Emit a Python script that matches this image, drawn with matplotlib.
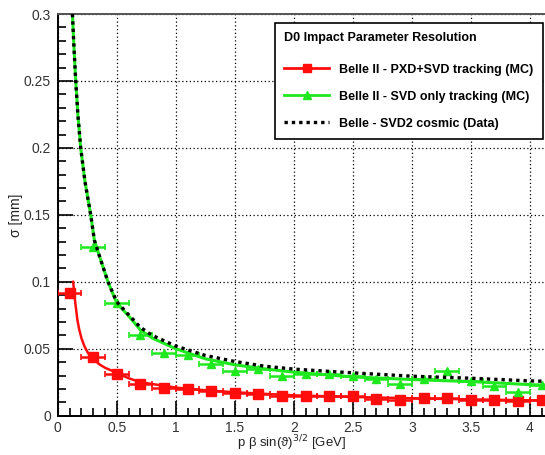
import matplotlib
matplotlib.use("Agg")
import matplotlib.pyplot as plt
from matplotlib.lines import Line2D
from matplotlib.ticker import MultipleLocator, FixedLocator

plt.rcParams['font.family'] = ['Liberation Sans', 'DejaVu Sans']

# ---- data ----
bin_x = [0.1, 0.3, 0.5, 0.7, 0.9, 1.1, 1.3, 1.5, 1.7, 1.9, 2.1, 2.3, 2.5, 2.7,
         2.9, 3.1, 3.3, 3.5, 3.7, 3.9, 4.1]
pxd_svd = [0.092, 0.0435, 0.031, 0.024, 0.0205, 0.0197, 0.0185, 0.0172, 0.0163,
           0.0148, 0.0144, 0.0144, 0.0144, 0.0128, 0.0118, 0.0135, 0.0132, 0.0120,
           0.0120, 0.0112, 0.0117]
svd_x = [0.3, 0.5, 0.7, 0.9, 1.1, 1.3, 1.5, 1.7, 1.9, 2.1, 2.3, 2.5, 2.7, 2.9,
         3.1, 3.3, 3.5, 3.7, 3.9, 4.1]
svd_only = [0.126, 0.084, 0.0604, 0.0468, 0.0455, 0.0388, 0.0336, 0.035, 0.0295,
            0.031, 0.031, 0.0293, 0.0274, 0.0235, 0.0272, 0.0335, 0.0256, 0.0222,
            0.0178, 0.023]
bin_halfwidth = 0.1

red_fit_x = [0.13, 0.14, 0.15, 0.166, 0.18, 0.2, 0.225, 0.256, 0.3, 0.35, 0.4, 0.5,
             0.6, 0.7, 0.85, 1.0, 1.25, 1.5, 2.0, 2.5, 3.0, 3.5, 4.0, 4.13]
red_fit_y = [0.1, 0.091, 0.083, 0.0716, 0.065, 0.058, 0.052, 0.0468, 0.0425,
             0.0385, 0.0358, 0.032, 0.028, 0.025, 0.023, 0.021, 0.019, 0.0175,
             0.0152, 0.014, 0.013, 0.0122, 0.0115, 0.0113]

green_fit_x = [0.124, 0.137, 0.152, 0.17, 0.194, 0.23, 0.279, 0.31, 0.35, 0.425,
               0.5, 0.6, 0.7, 0.8, 1.0, 1.25, 1.5, 1.75, 2.0, 2.5, 3.0, 3.5, 4.0, 4.13]
green_fit_y = [0.3, 0.275, 0.25, 0.225, 0.2, 0.175, 0.15, 0.131, 0.12, 0.1,
               0.084, 0.0745, 0.064, 0.058, 0.05, 0.0425, 0.038, 0.035, 0.0325,
               0.029, 0.027, 0.0255, 0.0232, 0.0228]

cosmic_x = [0.124, 0.137, 0.152, 0.17, 0.194, 0.23, 0.279, 0.31, 0.35, 0.425,
            0.5, 0.6, 0.7, 0.8, 1.0, 1.25, 1.5, 1.75, 2.0, 2.5, 3.0, 3.5, 4.0, 4.13]
cosmic_y = [0.3, 0.275, 0.25, 0.225, 0.2, 0.175, 0.15, 0.131, 0.12, 0.1,
            0.085, 0.0754, 0.066, 0.06, 0.052, 0.045, 0.0405, 0.037, 0.0348,
            0.032, 0.0295, 0.028, 0.026, 0.0257]

x_ticks = [0, 0.5, 1, 1.5, 2, 2.5, 3, 3.5, 4]
x_ticklabels = ["0", "0.5", "1", "1.5", "2", "2.5", "3", "3.5", "4"]
y_ticks = [0, 0.05, 0.1, 0.15, 0.2, 0.25, 0.3]
y_ticklabels = ["0", "0.05", "0.1", "0.15", "0.2", "0.25", "0.3"]

legend_title = "D0 Impact Parameter Resolution"
labels = ["Belle II - PXD+SVD tracking (MC)",
          "Belle II - SVD only tracking (MC)",
          "Belle - SVD2 cosmic (Data)"]

RED = '#ff0d0d'
GREEN = '#1ee81e'

W, H = 545, 455
fig = plt.figure(figsize=(W / 100, H / 100), dpi=100)
x0, x1, ytop, ybot = 57.8, 545, 14, 415.7
ax = fig.add_axes([x0 / W, (H - ybot) / H, (x1 - x0) / W, (ybot - ytop) / H])
ax.set_xlim(0, (x1 - x0) / 118.0)
ax.set_ylim(0, 0.3)

# fits
ax.plot(red_fit_x, red_fit_y, color=RED, lw=1.8, zorder=3)
ax.plot(green_fit_x, green_fit_y, color=GREEN, lw=2.2, zorder=3)
ax.plot(cosmic_x, cosmic_y, color='black', lw=2.4, linestyle=(0, (1, 1.2)), zorder=5)

# data points
ax.errorbar(bin_x, pxd_svd, xerr=bin_halfwidth, fmt='s', color=RED, ms=7,
            elinewidth=1.8, capsize=2, capthick=1.2, zorder=4)
ax.errorbar(svd_x, svd_only, xerr=bin_halfwidth, fmt='^', color=GREEN, ms=5.5,
            elinewidth=1.8, capsize=2, capthick=1.2, zorder=4)

# axes styling
ax.spines['right'].set_visible(False)
for s in ['left', 'bottom']:
    ax.spines[s].set_linewidth(1.4)
    ax.spines[s].set_color('black')
ax.spines['top'].set_linewidth(1.4)
ax.spines['top'].set_color('#555555')

ax.xaxis.set_major_locator(FixedLocator(x_ticks))
ax.set_xticklabels(x_ticklabels)
ax.yaxis.set_major_locator(FixedLocator(y_ticks))
ax.set_yticklabels(y_ticklabels)
ax.xaxis.set_minor_locator(MultipleLocator(0.1))
ax.yaxis.set_minor_locator(MultipleLocator(0.01))
ax.tick_params(which='both', direction='in', top=False, right=False, color='black',
               labelsize=10, width=1.2)
ax.tick_params(which='major', length=11)
ax.tick_params(which='minor', length=6)
ax.tick_params(axis='x', which='major', pad=4)
ax.tick_params(axis='y', which='major', pad=5)
for lab in ax.get_xticklabels() + ax.get_yticklabels():
    lab.set_color('#333333')

ax.grid(True, which='major', color='black', linestyle=(0, (1, 2)), lw=0.9)
ax.set_axisbelow(True)

ax.set_xlabel("p β sin(ϑ)$^{3/2}$ [GeV]", fontsize=9.5, color='#222222')
ax.xaxis.set_label_coords(0.48, -0.045)
ax.set_ylabel("σ [mm]", fontsize=10, color='#222222')
ax.yaxis.set_label_coords(-0.072, 0.5)

handles = [Line2D([], [], color=RED, lw=2, marker='s', ms=6),
           Line2D([], [], color=GREEN, lw=2, marker='^', ms=5.5),
           Line2D([], [], color='black', lw=2.4, linestyle=(0, (1, 1.2)))]
leg = ax.legend(handles, labels, loc='upper left',
                bbox_to_anchor=(275 / W, 1 - 23 / H), bbox_transform=fig.transFigure,
                borderaxespad=0,
                title=legend_title,
                title_fontproperties={'weight': 'bold', 'size': 9},
                prop={'weight': 'bold', 'size': 9},
                alignment='left', handlelength=3.6, handletextpad=0.8,
                labelspacing=1.2, borderpad=0.75, numpoints=1,
                fancybox=False, framealpha=1, edgecolor='black')
leg.get_frame().set_linewidth(1.2)
leg.set_zorder(10)
leg._legend_box.sep = 14

fig.savefig("out.png", dpi=100)
